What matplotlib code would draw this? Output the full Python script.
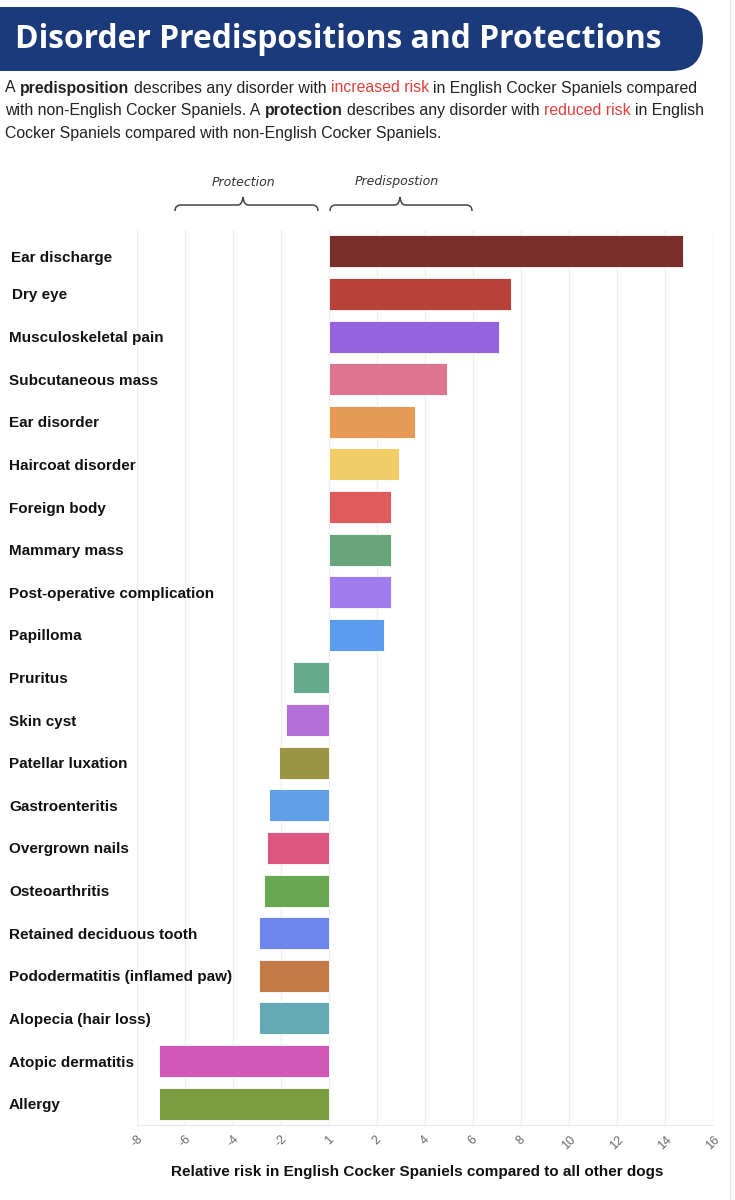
import matplotlib
matplotlib.use("Agg")
import matplotlib.pyplot as plt
from matplotlib.patches import FancyBboxPatch
from matplotlib.path import Path
from matplotlib.patches import PathPatch
from matplotlib.transforms import offset_copy

# ---------------- data ----------------
disorders = [
    "Ear discharge", "Dry eye", "Musculoskeletal pain", "Subcutaneous mass",
    "Ear disorder", "Haircoat disorder", "Foreign body", "Mammary mass",
    "Post-operative complication", "Papilloma", "Pruritus", "Skin cyst",
    "Patellar luxation", "Gastroenteritis", "Overgrown nails", "Osteoarthritis",
    "Retained deciduous tooth", "Pododermatitis (inflamed paw)",
    "Alopecia (hair loss)", "Atopic dermatitis", "Allergy",
]
# bar lengths in axis units (0 = risk 1, positive = predisposition, negative = protection)
risk_values = [
    14.75, 7.6, 7.1, 4.9, 3.6, 2.9, 2.6, 2.6, 2.6, 2.3,
    -1.5, -1.8, -2.1, -2.5, -2.6, -2.7, -2.9, -2.9, -2.9, -7.1, -7.1,
]
bar_colors = [
    "#7a2e2a", "#b8413a", "#9563e0", "#de7590", "#e69a55", "#f2cc66",
    "#de5c5c", "#69a57a", "#a07cec", "#5b9cef", "#66aa8e", "#b46fd8",
    "#9a9444", "#5fa0e6", "#dc5682", "#68a852", "#6d86ee", "#c57a45",
    "#64a9b4", "#d058b8", "#7c9c40",
]
tick_positions = [-8, -6, -4, -2, 0, 2, 4, 6, 8, 10, 12, 14, 16]
tick_labels = ["-8", "-6", "-4", "-2", "1", "2", "4", "6", "8", "10", "12", "14", "16"]

title = "Disorder Predispositions and Protections"
xlabel = "Relative risk in English Cocker Spaniels compared to all other dogs"
RED = "#e0403c"
body_lines = [
    [("A ", "normal", "#222222"), ("predisposition", "bold", "#222222"),
     (" describes any disorder with ", "normal", "#222222"), ("increased risk", "normal", RED),
     (" in English Cocker Spaniels compared", "normal", "#222222")],
    [("with non-English Cocker Spaniels. A ", "normal", "#222222"), ("protection", "bold", "#222222"),
     (" describes any disorder with ", "normal", "#222222"), ("reduced risk", "normal", RED),
     (" in English", "normal", "#222222")],
    [("Cocker Spaniels compared with non-English Cocker Spaniels.", "normal", "#222222")],
]

# ---------------- figure ----------------
W, H = 735, 1200
fig = plt.figure(figsize=(W / 100, H / 100), dpi=100)
fig.patch.set_facecolor("white")
FONT = "Liberation Sans"

# overlay axes in pixel coordinates
ov = fig.add_axes([0, 0, 1, 1], zorder=0)
ov.set_xlim(0, W)
ov.set_ylim(H, 0)
ov.axis("off")

# banner
ov.add_patch(FancyBboxPatch((-60, 7), 763, 64, boxstyle="round,pad=0,rounding_size=32",
                            facecolor="#1b3a7c", edgecolor="none"))
renderer = fig.canvas.get_renderer()
tt = ov.text(15, 40, title, color="white", fontsize=22, fontweight="bold",
             family="Open Sans", ha="left", va="center")
# fit the title width to the banner text width
bb = tt.get_window_extent(renderer)
tt.set_fontsize(22 * 647 / bb.width)

# faint page border line on the right
ov.plot([730, 730], [0, H], color="#e4e4e4", lw=1)

# rich body text
def width_px(txt, weight, size):
    t = ov.text(0, 0, txt, fontsize=size, fontweight=weight, family=FONT)
    w = t.get_window_extent(renderer).width
    t.remove()
    return w

BODY_SIZE = 11.4
space_w = width_px("a a", "normal", BODY_SIZE) - width_px("aa", "normal", BODY_SIZE)
for i, segs in enumerate(body_lines):
    x = 5
    y = 88 + i * 22.8
    for txt, weight, col in segs:
        lead = len(txt) - len(txt.lstrip(" "))
        trail = len(txt) - len(txt.rstrip(" "))
        x += lead * space_w
        core = txt.strip(" ")
        t = ov.text(x, y, core, fontsize=BODY_SIZE, fontweight=weight, color=col,
                    family=FONT, ha="left", va="center")
        x += t.get_window_extent(renderer).width + trail * space_w

# handwritten-style annotations and braces
ov.text(243, 182, "Protection", fontsize=9, family="DejaVu Sans", fontstyle="italic",
        color="#333333", ha="center", va="center", fontweight="light")
ov.text(397, 182, "Predispostion", fontsize=9, family="DejaVu Sans", fontstyle="italic",
        color="#333333", ha="center", va="center", fontweight="light")

def brace(x0, x1, xm, ybase, ytop):
    r = 6
    verts = [
        (x0, ybase + 6), (x0, ybase), (x0 + r, ybase),
        (xm - 5, ybase), (xm - 1, ybase), (xm, ytop),
        (xm + 1, ybase), (xm + 5, ybase),
        (x1 - r, ybase), (x1, ybase), (x1, ybase + 6),
    ]
    codes = [Path.MOVETO, Path.CURVE3, Path.CURVE3,
             Path.LINETO, Path.CURVE3, Path.CURVE3,
             Path.CURVE3, Path.CURVE3,
             Path.LINETO, Path.CURVE3, Path.CURVE3]
    ov.add_patch(PathPatch(Path(verts, codes), facecolor="none", edgecolor="#444444", lw=1.1))

brace(175, 318, 243, 205, 197)
brace(330, 472, 400, 205, 197)

# ---------------- chart axes ----------------
left, right, top, bottom = 137, 713, 230, 1125
ax = fig.add_axes([left / W, 1 - bottom / H, (right - left) / W, (bottom - top) / H], zorder=1)
ax.patch.set_alpha(0)
ypos = list(range(len(disorders)))
ax.barh(ypos, risk_values, left=0, height=0.75, color=bar_colors,
        edgecolor="white", linewidth=0.6, zorder=3)
ax.set_xlim(-8, 16)
ax.set_ylim(len(disorders) - 0.5, -0.5)

ax.set_xticks(tick_positions)
ax.set_xticklabels(tick_labels, rotation=45, fontsize=9, color="#6a6a6a", family=FONT)
ax.tick_params(axis="x", length=0, pad=6)
ax.set_yticks(ypos)
ax.set_yticklabels(disorders, ha="left", fontsize=11, fontweight="bold",
                   color="#111111", family=FONT)
ax.tick_params(axis="y", length=0, pad=(left - 9) * 0.72)
# small quirks of the original label placement
ylabels = ax.get_yticklabels()
ylabels[0].set_transform(offset_copy(ylabels[0].get_transform(), fig=fig, x=2, y=-5, units="dots"))
ylabels[1].set_transform(offset_copy(ylabels[1].get_transform(), fig=fig, x=3, y=0, units="dots"))

ax.grid(axis="x", color="#eeeeee", lw=1, zorder=0)
ax.set_axisbelow(True)
for s in ["top", "right", "left"]:
    ax.spines[s].set_visible(False)
ax.spines["bottom"].set_color("#e8e8e8")

ax.set_xlabel(xlabel, fontsize=11, fontweight="bold", family=FONT, color="#111111")
ax.xaxis.set_label_coords((417 - left) / (right - left), (bottom - 1165) / (bottom - top))

fig.savefig("out.png", dpi=100, facecolor="white")
